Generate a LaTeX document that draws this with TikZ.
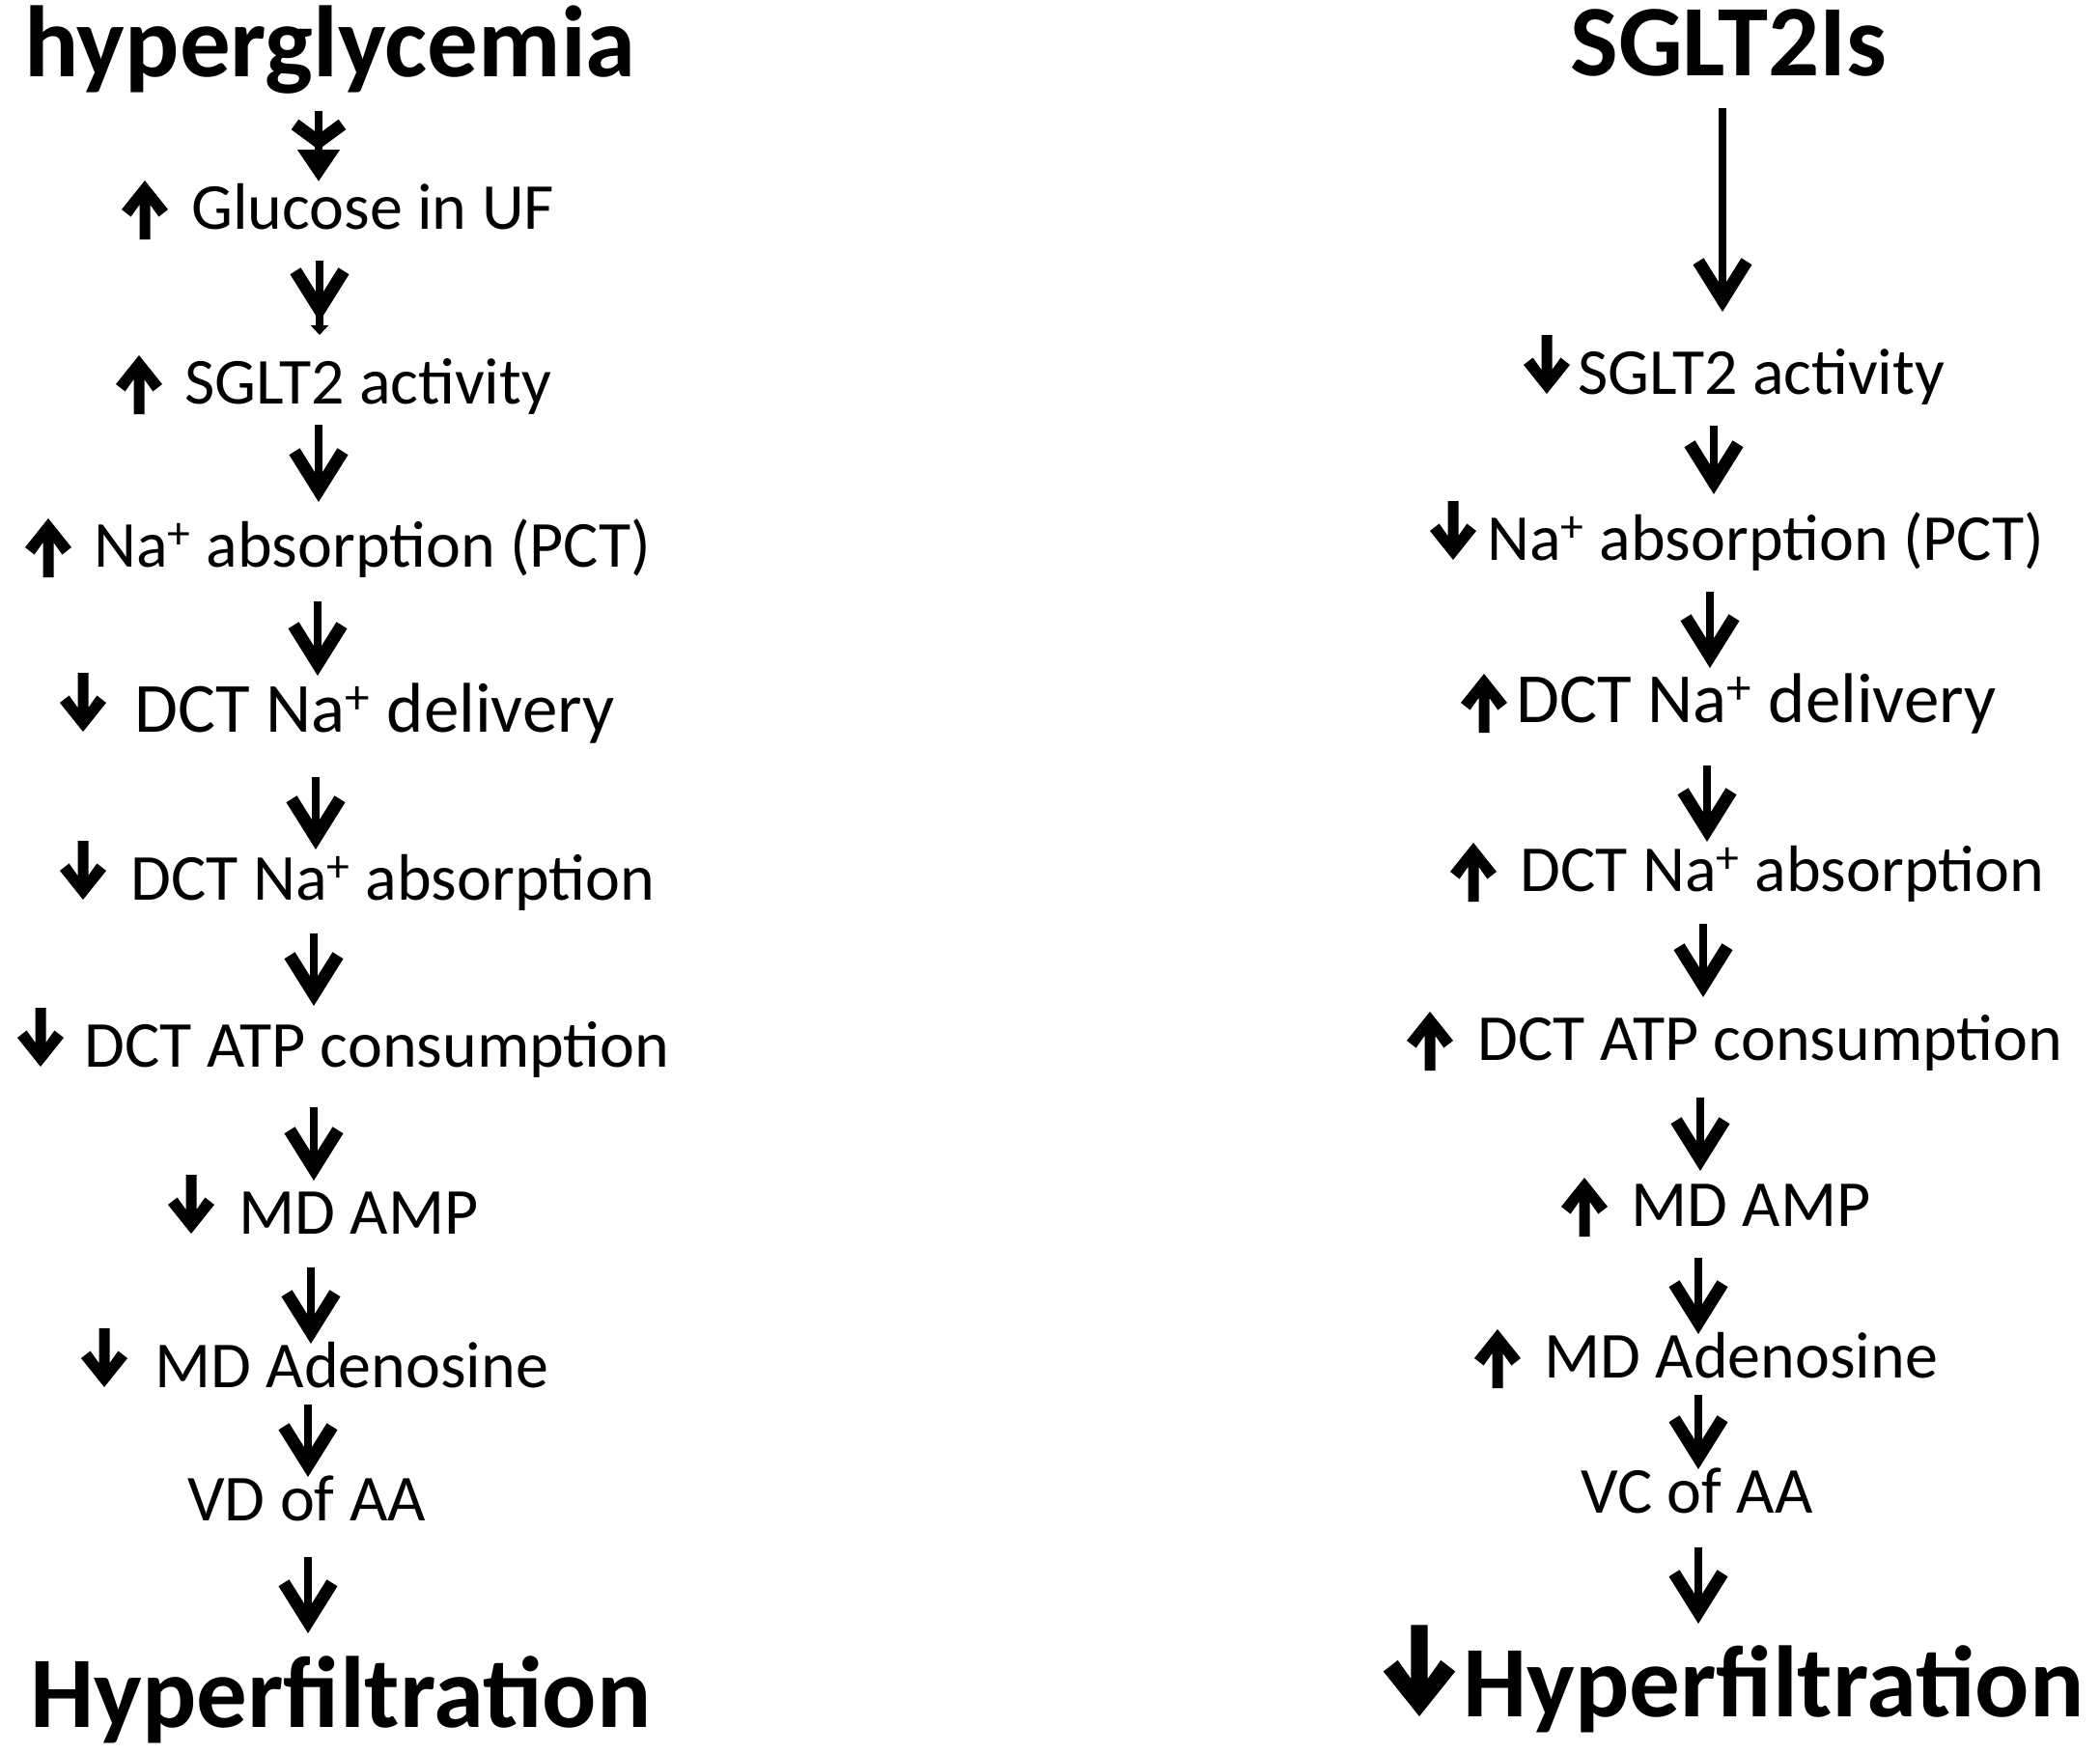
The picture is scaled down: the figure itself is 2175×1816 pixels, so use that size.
\documentclass[tikz,border=0pt]{standalone}
\usepackage{fontspec}
\setmainfont{Carlito}
\usetikzlibrary{arrows.meta}
\tikzset{
  txt/.style={anchor=base west, inner sep=0pt, font=\fontsize{34pt}{40pt}\selectfont},
  txtbig/.style={anchor=base west, inner sep=0pt, font=\fontsize{36.5pt}{42pt}\selectfont},
  title/.style={anchor=base west, inner sep=0pt, font=\fontsize{52.5pt}{60pt}\selectfont\bfseries},
  barb/.style={-{Straight Barb[length=20pt,width=25pt,line width'=6.5pt]}},
  conn/.style={line width=4pt, barb},
  uparr/.pic={\fill (0,-50) -- (24,-20) -- (14.4,-12.5) -- (5.5,-25) -- (5.5,11) -- (-5.5,11) -- (-5.5,-25) -- (-14.4,-12.5) -- (-24,-20) -- cycle;},
  dnarr/.pic={\fill (0,0) -- (24,-30) -- (14.4,-37.5) -- (5.5,-25) -- (5.5,-61) -- (-5.5,-61) -- (-5.5,-25) -- (-14.4,-37.5) -- (-24,-30) -- cycle;},
}
\newcommand\conn[5]{\draw[conn, shorten <=#4, shorten >=#5] (#1.base -| #3,0) -- (#2.base -| #3,0);}
\begin{document}
\begin{tikzpicture}[x=0.5pt, y=-0.5pt]
\useasboundingbox (0,0) rectangle (2175,1816);
% ---------- left column ----------
\node[title] (hg) at (25,79) {hyperglycemia};
\node[txt] (l1) at (198,237) {Glucose in UF};
\node[txt] (l2) at (191,418) {SGLT2 activity};
\node[txt] (l3) at (97,587) {Na\textsuperscript{+} absorption (PCT)};
\node[txtbig] (l4) at (139,758) {DCT Na\textsuperscript{+} delivery};
\node[txt] (l5) at (135,932) {DCT Na\textsuperscript{+} absorption};
\node[txt] (l6) at (87,1105) {DCT ATP consumption};
\node[txt] (l7) at (247,1278) {MD AMP};
\node[txt] (l8) at (160,1437) {MD Adenosine};
\node[txt] (l9) at (194,1575) {VD of AA};
\node[title] (hf1) at (31,1789) {Hyperfiltration};
\pic at (150,237) {uparr};
\pic at (144,418) {uparr};
\pic at (50,587) {uparr};
\pic at (86,758) {dnarr};
\pic at (86,932) {dnarr};
\pic at (42,1105) {dnarr};
\pic at (198,1278) {dnarr};
\pic at (108,1437) {dnarr};
\draw[line width=4pt, shorten <=18pt, shorten >=24.5pt,
  -{Straight Barb[length=9pt,width=24.5pt,line width'=6.5pt] Triangle[length=16.5pt,width=21pt]}]
  (hg.base -| 330,0) -- (l1.base -| 330,0);
\draw[line width=4pt, shorten <=16.5pt, shorten >=35.5pt,
  -{Straight Barb[length=20pt,width=25pt,line width'=6.5pt,sep=2pt] Triangle[length=5pt,width=9pt]}]
  (l1.base -| 331,0) -- (l2.base -| 331,0);
\conn{l2}{l3}{330}{11pt}{33.5pt}
\conn{l3}{l4}{329}{18pt}{29pt}
\conn{l4}{l5}{327}{23.5pt}{26pt}
\conn{l5}{l6}{325}{17.5pt}{31.5pt}
\conn{l6}{l7}{325}{21pt}{27.5pt}
\conn{l7}{l8}{322}{17.5pt}{22.5pt}
\conn{l8}{l9}{319}{9pt}{22.5pt}
\conn{l9}{hf1}{319}{19pt}{48.5pt}
% ---------- right column ----------
\node[title] (is) at (1626,78) {SGLT2Is};
\node[txt] (r1) at (1634,408) {SGLT2 activity};
\node[txt] (r2) at (1540,580) {Na\textsuperscript{+} absorption (PCT)};
\node[txtbig] (r3) at (1570,748) {DCT Na\textsuperscript{+} delivery};
\node[txt] (r4) at (1574,923) {DCT Na\textsuperscript{+} absorption};
\node[txt] (r5) at (1530,1098) {DCT ATP consumption};
\node[txt] (r6) at (1689,1270) {MD AMP};
\node[txt] (r7) at (1599,1427) {MD Adenosine};
\node[txt] (r8) at (1637,1567) {VC of AA};
\node[title] (hf2) at (1515,1778) {Hyperfiltration};
\pic at (1602,408) {dnarr};
\pic at (1505,580) {dnarr};
\pic at (1537,748) {uparr};
\pic at (1526,923) {uparr};
\pic at (1481,1098) {uparr};
\pic at (1641,1270) {uparr};
\pic at (1551,1427) {uparr};
\pic[scale=1.55] at (1470,1778) {dnarr};
\conn{is}{r1}{1784}{17pt}{42.5pt}
\conn{r1}{r2}{1775}{16.5pt}{34pt}
\conn{r2}{r3}{1771}{16.5pt}{28pt}
\conn{r3}{r4}{1768}{22.5pt}{25.5pt}
\conn{r4}{r5}{1764}{17pt}{32.5pt}
\conn{r5}{r6}{1761}{19.5pt}{28.5pt}
\conn{r6}{r7}{1759}{16.5pt}{22.5pt}
\conn{r7}{r8}{1759}{9pt}{22.5pt}
\conn{r8}{hf2}{1759}{18pt}{48pt}
\end{tikzpicture}
\end{document}
